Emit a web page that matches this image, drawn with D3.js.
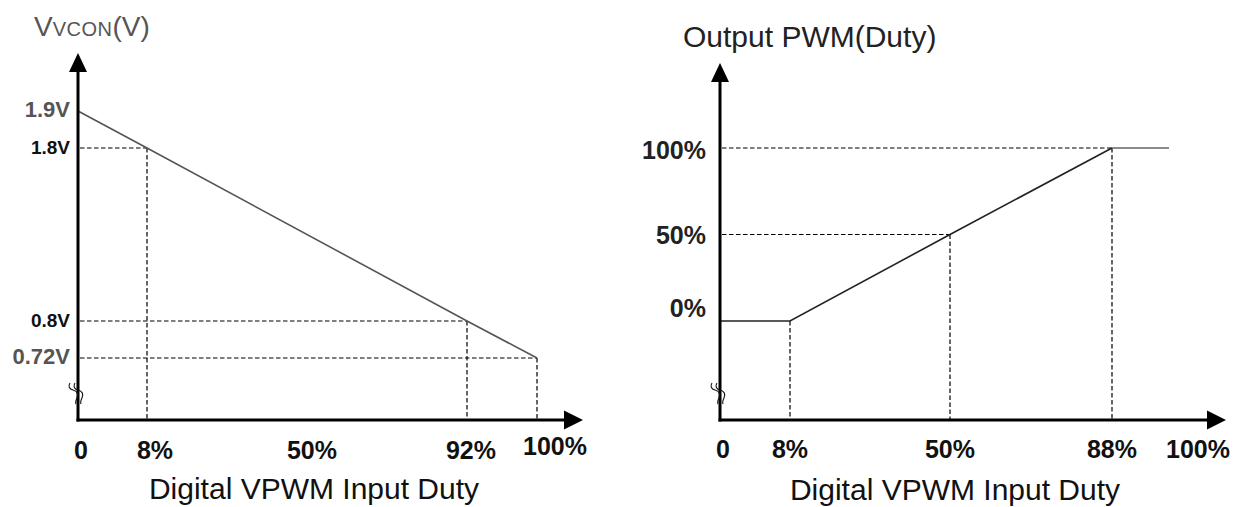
<!DOCTYPE html>
<html><head><meta charset="utf-8">
<script src="https://cdn.jsdelivr.net/npm/d3@7/dist/d3.min.js"></script>
<style>
html,body{margin:0;padding:0;background:#fff;}
svg{display:block;font-family:"Liberation Sans",Arial,sans-serif;}
</style></head>
<body><svg id="c" width="1236" height="507"></svg>
<script>
// ---- data ----
const leftDuty = [0, 8, 92, 100];
const leftVcon = [1.9, 1.8, 0.8, 0.72];
const leftXTickValues = [0, 8, 50, 92, 100];
const leftXTickLabels = ["0", "8%", "50%", "92%", "100%"];
const leftYTickValues = [1.9, 1.8, 0.8, 0.72];
const leftYTickLabels = ["1.9V", "1.8V", "0.8V", "0.72V"];

const rightDuty = [0, 8, 50, 88, 100];
const rightOut = [0, 0, 50, 100, 100];
const rightXTickValues = [0, 8, 50, 88, 100];
const rightXTickLabels = ["0", "8%", "50%", "88%", "100%"];
const rightYTickValues = [100, 50, 0];
const rightYTickLabels = ["100%", "50%", "0%"];

// ---- layout ----
const svg = d3.select("#c");
const AX = 420; // x-axis baseline
const xL = d3.scaleLinear().domain([0, 8, 92, 100]).range([78, 147, 467, 537]);
const yL = d3.scaleLinear().domain([0.72, 0.8, 1.8, 1.9]).range([358, 321, 148, 111]);
const xR = d3.scaleLinear().domain([0, 8, 50, 88, 100]).range([720, 790, 950, 1112, 1169]);
const yR = d3.scaleLinear().domain([0, 100]).range([321, 148]);

const leftXNudge = [3, 8, 5, 4, 18];
const leftXBase = [459, 459, 459, 459, 455];
const rightXNudge = [3, 0, 0, 0, 29];
const leftYStyle = [{s:22,c:"#555"},{s:19,c:"#111"},{s:19,c:"#111"},{s:22,c:"#555"}];
const rightYDy = [11, 9, -4];

const dash = "4.5,2.5";

function axes(x0, tipY, tipX) {
  const g = svg.append("g");
  g.append("line").attr("x1", x0).attr("y1", AX + 1.5).attr("x2", x0).attr("y2", tipY + 15)
    .attr("stroke", "#000").attr("stroke-width", 3);
  g.append("line").attr("x1", x0 - 1.5).attr("y1", AX).attr("x2", tipX - 15).attr("y2", AX)
    .attr("stroke", "#000").attr("stroke-width", 3);
  g.append("path").attr("d", `M${x0},${tipY} L${x0 + 9},${tipY + 19} L${x0 - 9},${tipY + 19} Z`).attr("fill", "#000");
  g.append("path").attr("d", `M${tipX},${AX} L${tipX - 19},${AX - 9.5} L${tipX - 19},${AX + 9.5} Z`).attr("fill", "#000");
  // axis break squiggle
  const bx = x0 - 8, by = 383;
  [0, 5].forEach(o => {
    g.append("path")
      .attr("d", `M${bx + o},${by} c-2,3 -1,6 3,7 c4,1 6,4 4,8 c-1,2 -2,4 -1,6`)
      .attr("fill", "none").attr("stroke", "#111").attr("stroke-width", 1.1);
  });
}

// ===== LEFT CHART =====
const left = leftDuty.map((d, i) => ({x: d, y: leftVcon[i]}));
const gl = svg.append("g").attr("stroke", "#000").attr("stroke-width", 1.2).attr("stroke-dasharray", dash);
left.slice(1).forEach(p => {
  gl.append("line").attr("x1", xL(0) + 2).attr("x2", xL(p.x)).attr("y1", yL(p.y)).attr("y2", yL(p.y));
  gl.append("line").attr("x1", xL(p.x)).attr("x2", xL(p.x)).attr("y1", yL(p.y)).attr("y2", AX);
});
svg.append("path").datum(left)
  .attr("d", d3.line().x(d => xL(d.x)).y(d => yL(d.y)))
  .attr("fill", "none").attr("stroke", "#555").attr("stroke-width", 1.6);
axes(78, 53, 583);

svg.append("g").selectAll("text").data(leftYTickValues).join("text")
  .attr("x", 70).attr("y", d => yL(d) + 6)
  .attr("text-anchor", "end").attr("font-weight", "bold")
  .attr("font-size", (d, i) => leftYStyle[i].s).attr("fill", (d, i) => leftYStyle[i].c)
  .text((d, i) => leftYTickLabels[i]);
svg.append("g").selectAll("text").data(leftXTickValues).join("text")
  .attr("x", (d, i) => xL(d) + leftXNudge[i]).attr("y", (d, i) => leftXBase[i])
  .attr("text-anchor", "middle").attr("font-weight", "bold").attr("font-size", 25).attr("fill", "#111")
  .text((d, i) => leftXTickLabels[i]);
const lt = svg.append("text").attr("x", 34).attr("y", 36).attr("fill", "#555").attr("font-size", 28);
lt.append("tspan").text("V");
lt.append("tspan").attr("font-size", 20).attr("letter-spacing", 0.5).text("VCON");
lt.append("tspan").text("(V)");
svg.append("text").attr("x", 314).attr("y", 499).attr("text-anchor", "middle")
  .attr("font-size", 30).attr("fill", "#111").text("Digital VPWM Input Duty");

// ===== RIGHT CHART =====
const right = rightDuty.map((d, i) => ({x: d, y: rightOut[i]}));
const gr = svg.append("g").attr("stroke", "#000").attr("stroke-width", 1.2).attr("stroke-dasharray", dash);
right.slice(1, 4).forEach(p => {
  if (p.y > 0) gr.append("line").attr("x1", xR(0) + 2).attr("x2", xR(p.x)).attr("y1", yR(p.y)).attr("y2", yR(p.y));
  gr.append("line").attr("x1", xR(p.x)).attr("x2", xR(p.x)).attr("y1", yR(p.y)).attr("y2", AX);
});
const lineR = d3.line().x(d => xR(d.x)).y(d => yR(d.y));
svg.append("path").datum(right.slice(0, 4)).attr("d", lineR)
  .attr("fill", "none").attr("stroke", "#222").attr("stroke-width", 1.6);
svg.append("path").datum(right.slice(3)).attr("d", lineR)
  .attr("fill", "none").attr("stroke", "#666").attr("stroke-width", 1.6);
axes(720, 63, 1226);

svg.append("g").selectAll("text").data(rightYTickValues).join("text")
  .attr("x", 706).attr("y", (d, i) => yR(d) + rightYDy[i])
  .attr("text-anchor", "end").attr("font-weight", "bold").attr("font-size", 25).attr("fill", "#222")
  .text((d, i) => rightYTickLabels[i]);
svg.append("g").selectAll("text").data(rightXTickValues).join("text")
  .attr("x", (d, i) => xR(d) + rightXNudge[i]).attr("y", 458)
  .attr("text-anchor", "middle").attr("font-weight", "bold").attr("font-size", 25).attr("fill", "#111")
  .text((d, i) => rightXTickLabels[i]);
svg.append("text").attr("x", 683).attr("y", 47).attr("font-size", 30).attr("fill", "#222").text("Output PWM(Duty)");
svg.append("text").attr("x", 955).attr("y", 500).attr("text-anchor", "middle")
  .attr("font-size", 30).attr("fill", "#111").text("Digital VPWM Input Duty");
</script>
</body></html>
